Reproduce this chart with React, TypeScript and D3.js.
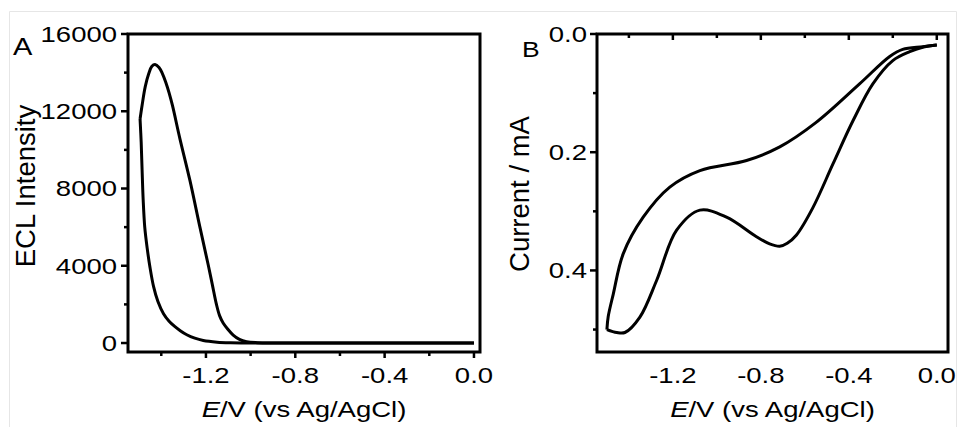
import * as d3 from "d3";

// Panel A: ECL intensity vs potential (forward scan then reverse scan)
const eclForward: [number, number][] = [
  [0.0, 0], [-0.3, 0], [-0.6, 0], [-0.9, 3], [-0.97, 20], [-1.018, 70],
  [-1.05, 190], [-1.078, 414], [-1.103, 730], [-1.123, 1040], [-1.139, 1420],
  [-1.153, 2000], [-1.171, 3000], [-1.189, 4000], [-1.227, 6000],
  [-1.272, 8430], [-1.317, 10600], [-1.35, 12300], [-1.365, 12950],
  [-1.38, 13500], [-1.395, 13950], [-1.41, 14270], [-1.428, 14420],
  [-1.442, 14330], [-1.456, 13950], [-1.472, 13260], [-1.486, 12300],
  [-1.495, 11600],
];
const eclReverse: [number, number][] = [
  [-1.495, 11600], [-1.49, 10400], [-1.486, 9000], [-1.481, 7400],
  [-1.474, 6000], [-1.463, 4900], [-1.451, 3950], [-1.435, 2950],
  [-1.415, 2150], [-1.39, 1520], [-1.365, 1130], [-1.34, 860],
  [-1.315, 640], [-1.286, 430], [-1.25, 250], [-1.212, 130], [-1.15, 45],
  [-1.09, 14], [-1.0, 3], [-0.6, 0], [-0.3, 0], [0.0, 0],
];

// Panel B: cyclic voltammogram (current in mA)
const cvForward: [number, number][] = [
  [0.0, 0.0186], [-0.06, 0.022], [-0.123, 0.03], [-0.2, 0.045],
  [-0.29, 0.084], [-0.38, 0.146], [-0.471, 0.219], [-0.565, 0.295],
  [-0.638, 0.340], [-0.68, 0.354], [-0.714, 0.359], [-0.76, 0.355],
  [-0.82, 0.343], [-0.956, 0.31], [-1.077, 0.298], [-1.183, 0.332],
  [-1.274, 0.417], [-1.35, 0.479], [-1.418, 0.505], [-1.455, 0.505],
  [-1.5, 0.5],
];
const cvReverse: [number, number][] = [
  [-1.5, 0.5], [-1.494, 0.478], [-1.471, 0.44], [-1.426, 0.372],
  [-1.335, 0.31], [-1.214, 0.259], [-1.077, 0.231], [-0.865, 0.214],
  [-0.714, 0.191], [-0.55, 0.15], [-0.35, 0.084], [-0.214, 0.038],
  [-0.155, 0.026], [-0.064, 0.0215], [0.0, 0.0186],
];

const xMajor = [-1.2, -0.8, -0.4, 0.0];
const xMinor = [-1.4, -1.0, -0.6, -0.2];
const aYMajor = [0, 4000, 8000, 12000, 16000];
const aYMinor = [2000, 6000, 10000, 14000];
const bYMajor = [0.0, 0.2, 0.4];
const bYMinor = [0.1, 0.3, 0.5];

const font = "'Liberation Sans', Arial, Helvetica, sans-serif";

function SText({ x, y, size = 27.5, sy = 0.8, anchor = "middle", children }: any) {
  return (
    <g transform={`translate(${x},${y}) scale(1,${sy})`}>
      <text x={0} y={0} fontSize={size} textAnchor={anchor} fontFamily={font} fill="#000">
        {children}
      </text>
    </g>
  );
}

function Panel({ x, y, data, yMajor, yMinor, yFmt, yLabel, yLabelX, yLabelY, tickLabelX }: any) {
  const [x0, x1] = x.range();
  const [y0, y1] = y.range();
  const line = d3
    .line<[number, number]>()
    .x((d) => x(d[0]))
    .y((d) => y(d[1]))
    .curve(d3.curveCatmullRom.alpha(0.5));
  return (
    <g>
      {data.map((d: [number, number][], i: number) => (
        <path key={i} d={line(d) || ""} fill="none" stroke="#000" strokeWidth={3} strokeLinejoin="round" />
      ))}
      <rect x={x0} y={Math.min(y0, y1)} width={x1 - x0} height={Math.abs(y0 - y1)} fill="none" stroke="#000" strokeWidth={3} />
      {xMajor.map((v) => (
        <g key={"xm" + v}>
          <line x1={x(v)} x2={x(v)} y1={y0} y2={y0 + 6} stroke="#000" strokeWidth={2.5} />
          <SText x={x(v)} y={383}>{v.toFixed(1)}</SText>
        </g>
      ))}
      {xMinor.map((v) => (
        <line key={"xn" + v} x1={x(v)} x2={x(v)} y1={y0} y2={y0 + 4} stroke="#000" strokeWidth={2.5} />
      ))}
      {yMajor.map((v: number) => (
        <g key={"ym" + v}>
          <line x1={x0} x2={x0 - 7} y1={y(v)} y2={y(v)} stroke="#000" strokeWidth={2.5} />
          <SText x={tickLabelX} y={y(v) + 7.9} anchor="end">{yFmt(v)}</SText>
        </g>
      ))}
      {yMinor.map((v: number) => (
        <line key={"yn" + v} x1={x0} x2={x0 - 4} y1={y(v)} y2={y(v)} stroke="#000" strokeWidth={2.5} />
      ))}
      <SText x={(x0 + x1) / 2} y={416.7}>
        <tspan fontStyle="italic">E</tspan>/V (vs Ag/AgCl)
      </SText>
      <text
        transform={`translate(${yLabelX},${yLabelY}) rotate(-90)`}
        fontSize={27.5}
        textAnchor="middle"
        fontFamily={font}
      >
        {yLabel}
      </text>
    </g>
  );
}

export default function App() {
  const xA = d3.scaleLinear().domain([-1.549, 0.027]).range([128, 480]);
  const yA = d3.scaleLinear().domain([-465, 16000]).range([352, 34]);
  const xB = d3.scaleLinear().domain([-1.545, 0.051]).range([597, 948]);
  const yB = d3.scaleLinear().domain([0, 0.538]).range([34, 352]);
  return (
    <svg
      width={962}
      height={427}
      style={{ position: "absolute", left: 0, top: 0, background: "#fff" }}
    >
      <rect width={962} height={427} fill="#fff" />
      <path d="M9.5,427 V11.5 H956.5 V427" fill="none" stroke="#e6e6e6" strokeWidth={1} />
      <Panel
        x={xA}
        y={yA}
        data={[eclForward, eclReverse]}
        yMajor={aYMajor}
        yMinor={aYMinor}
        yFmt={(v: number) => String(v)}
        yLabel="ECL Intensity"
        yLabelX={35}
        yLabelY={186}
        tickLabelX={117}
      />
      <Panel
        x={xB}
        y={yB}
        data={[cvForward, cvReverse]}
        yMajor={bYMajor}
        yMinor={bYMinor}
        yFmt={(v: number) => v.toFixed(1)}
        yLabel="Current / mA"
        yLabelX={529}
        yLabelY={194}
        tickLabelX={587}
      />
      <SText x={13} y={55} size={29} sy={0.82} anchor="start">A</SText>
      <SText x={522} y={56.5} size={26.5} sy={0.8} anchor="start">B</SText>
    </svg>
  );
}
